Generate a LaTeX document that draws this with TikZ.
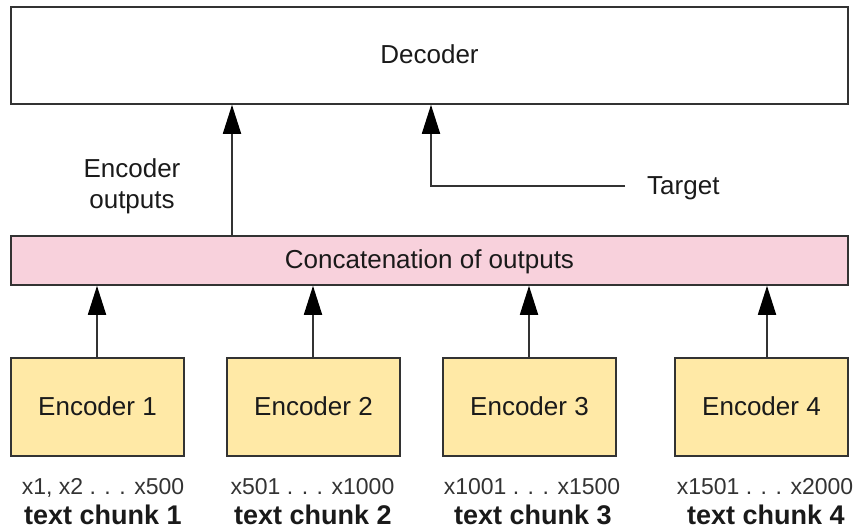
\documentclass[tikz,border=0pt]{standalone}
\usepackage{fontspec}
\setmainfont{Liberation Sans}
\usetikzlibrary{arrows.meta}
\definecolor{edge}{HTML}{333333}
\definecolor{catfill}{HTML}{F8D1DC}
\definecolor{encfill}{HTML}{FFE9A6}
\definecolor{ink}{HTML}{1A1A1A}
\tikzset{
  box/.style={draw=edge, line width=1.6pt, rectangle, inner sep=0pt,
    text height=19pt, text depth=2pt, text=ink,
    font=\fontsize{26}{31}\selectfont},
  encbox/.style={box, fill=encfill, minimum width=173pt, minimum height=98pt},
  lbl/.style={inner sep=0pt, text=ink, font=\fontsize{26}{31}\selectfont},
  rng/.style={inner sep=0pt, anchor=base, text=edge, font=\fontsize{23}{27}\selectfont},
  chunk/.style={inner sep=0pt, anchor=base, text=ink, font=\fontsize{27}{31}\selectfont\bfseries},
  arr/.style={draw=edge, line width=1.8pt,
    -{Triangle[length=29pt,width=18pt,color=black,fill=black]}}
}
\begin{document}
\begin{tikzpicture}[x=1pt,y=-1pt]
\useasboundingbox (0,0) rectangle (855,529);

% decoder and concatenation bar
\node[box, minimum width=837pt, minimum height=97pt] (dec) at (429.5,55.5) {Decoder};
\node[box, fill=catfill, minimum width=837pt, minimum height=49pt] (cat) at (429.5,260.5) {Concatenation of outputs};

% encoders
\node[encbox] (e1) at (97.5,407) {Encoder 1};
\node[encbox] (e2) at (313.5,407) {Encoder 2};
\node[encbox] (e3) at (529.5,407) {Encoder 3};
\node[encbox] (e4) at (761.5,407) {Encoder 4};

% input ranges and chunk names
\node[rng] (r1) at (103,495) {x1, x2 . . . x500};
\node[rng] (r2) at (312.5,495) {x501 . . . x1000};
\node[rng] (r3) at (532,495) {x1001 . . . x1500};
\node[rng] (r4) at (765,495) {x1501 . . . x2000};
\node[chunk] (k1) at (103,525) {text chunk 1};
\node[chunk] (k2) at (313,525) {text chunk 2};
\node[chunk] (k3) at (533,525) {text chunk 3};
\node[chunk] (k4) at (766,525) {text chunk 4};

% labels
\node[lbl, align=center] (eo) at (132,186) {Encoder\\outputs};
\node[lbl, anchor=base west] (tg) at (647,195) {Target};

% encoder -> concatenation (shafts on whole-pixel columns)
\coordinate (e1top) at ([xshift=-0.5pt]e1.north);
\coordinate (e2top) at ([xshift=-0.5pt]e2.north);
\coordinate (e3top) at ([xshift=-0.5pt]e3.north);
\coordinate (e4top) at ([xshift=5.5pt]e4.north);
\draw[arr] (e1top) -- (cat.south -| e1top);
\draw[arr] (e2top) -- (cat.south -| e2top);
\draw[arr] (e3top) -- (cat.south -| e3top);
\draw[arr] (e4top) -- (cat.south -| e4top);

% concatenation -> decoder
\coordinate (catout) at (232,0);
\draw[arr] (cat.north -| catout) -- (dec.south -| catout);

% target -> decoder
\coordinate (tgin) at (431,0);
\coordinate (tgend) at (625,186);
\draw[arr] (tgend) -- (tgend -| tgin) -- (dec.south -| tgin);
\end{tikzpicture}
\end{document}
